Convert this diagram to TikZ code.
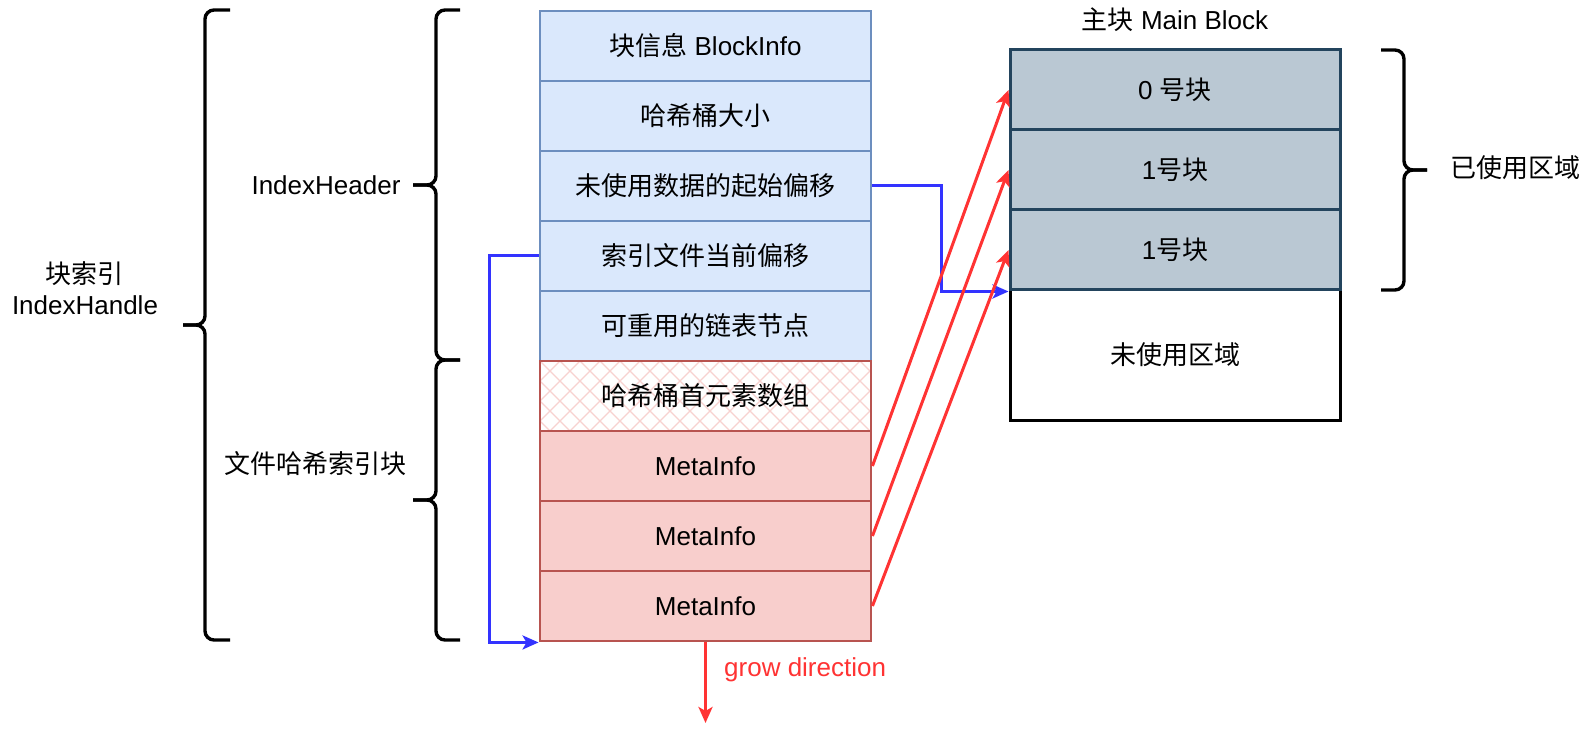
\documentclass[tikz,border=0pt]{standalone}
\usepackage{fontspec}
\setmainfont{Liberation Sans}
\newfontfamily\cjk{Noto Sans CJK SC}
\usetikzlibrary{arrows.meta,calc}
\definecolor{bfill}{HTML}{DAE8FC}
\definecolor{bstroke}{HTML}{6C8EBF}
\definecolor{rfill}{HTML}{F8CECC}
\definecolor{rstroke}{HTML}{B85450}
\definecolor{gfill}{HTML}{BAC8D3}
\definecolor{gstroke}{HTML}{23445D}
\definecolor{ablue}{HTML}{3333FF}
\definecolor{ared}{HTML}{FF3333}
\definecolor{hatchc}{HTML}{F8D2D0}
\begin{document}
\begin{tikzpicture}[x=1pt,y=-1pt,
  every node/.style={font=\fontsize{26}{31}\selectfont, inner sep=0pt},
  cell/.style={draw, line width=2.9pt, minimum width=331pt, minimum height=70pt},
  bluecell/.style={cell, fill=bfill, draw=bstroke},
  redcell/.style={cell, fill=rfill, draw=rstroke},
  hatchcell/.style={cell, fill=white, draw=rstroke, path picture={
      \foreach \i in {-5,...,22} {
        \draw[hatchc, line width=1.4pt] ($(path picture bounding box.north west)+(\i*20pt,0pt)$) -- ++(100pt,-100pt);
        \draw[hatchc, line width=1.4pt] ($(path picture bounding box.north west)+(\i*20pt,0pt)$) -- ++(-100pt,-100pt);
      }}},
  graycell/.style={draw=gstroke, fill=gfill, line width=3pt, minimum width=330pt, minimum height=80pt},
  emptycell/.style={draw=black, fill=white, line width=3pt, minimum width=330pt, minimum height=130pt},
  bracepath/.style={line width=3.4pt, rounded corners=9pt},
  bluearrow/.style={draw=ablue, line width=3pt, -{Stealth[length=16pt,width=14pt,inset=4pt]}},
  redarrow/.style={draw=ared, line width=3pt, -{Stealth[length=16pt,width=14pt,inset=4pt]}},
  lbl/.style={align=center}
]
\fill[white] (0,0) rectangle (1591,735);
\useasboundingbox (0,0) rectangle (1591,735);

% left stack
\node[bluecell] (r1) at (705.5,46) {{\cjk 块信息} BlockInfo};
\node[bluecell] (r2) at (705.5,116) {\cjk 哈希桶大小};
\node[bluecell] (r3) at (705.5,186) {\cjk 未使用数据的起始偏移};
\node[bluecell] (r4) at (705.5,256) {\cjk 索引文件当前偏移};
\node[bluecell] (r5) at (705.5,326) {\cjk 可重用的链表节点};
\node[hatchcell] (h1) at (705.5,396) {\cjk 哈希桶首元素数组};
\node[redcell] (m1) at (705.5,466) {MetaInfo};
\node[redcell] (m2) at (705.5,536) {MetaInfo};
\node[redcell] (m3) at (705.5,606) {MetaInfo};

% right stack
\node[lbl] (title) at (1175,20) {{\cjk 主块} Main Block};
\node[emptycell] (u1) at (1175,355) {\cjk 未使用区域};
\node[graycell] (b0) at (1175,90) {0 {\cjk 号块}};
\node[graycell] (b1) at (1175,170) {1{\cjk 号块}};
\node[graycell] (b2) at (1175,250) {1{\cjk 号块}};

% braces
\draw[bracepath] (230,10) -- (205,10) -- (205,325) -- (183,325);
\draw[bracepath] (230,640) -- (205,640) -- (205,325) -- (183,325);
\draw[bracepath] (460,10) -- (436,10) -- (436,185) -- (413,185);
\draw[bracepath] (460,360) -- (436,360) -- (436,185) -- (413,185);
\draw[bracepath] (460,360) -- (436,360) -- (436,500) -- (413,500);
\draw[bracepath] (460,640) -- (436,640) -- (436,500) -- (413,500);
\draw[bracepath] (1381,50) -- (1404,50) -- (1404,170) -- (1427,170);
\draw[bracepath] (1381,290) -- (1404,290) -- (1404,170) -- (1427,170);

% labels
\node[lbl] (lhandle) at (85,288) {{\cjk 块索引}\\IndexHandle};
\node[lbl] (lheader) at (326,185) {IndexHeader};
\node[lbl] (lhash) at (315,464) {\cjk 文件哈希索引块};
\node[lbl] (lused) at (1515,168) {\cjk 已使用区域};

% blue connectors
\draw[bluearrow] (r3.east) -- ++(69,0) |- (b2.south west);
\draw[bluearrow] (r4.west) -- ++(-49,0) |- (m3.south west);

% red connectors
\draw[redarrow] (m1.east) -- (b0.west);
\draw[redarrow] (m2.east) -- (b1.west);
\draw[redarrow] (m3.east) -- (b2.west);

% grow direction
\coordinate (growend) at (705.5,723);
\draw[redarrow] (m3.south) -- (growend);
\node[anchor=west, text=ared] (lgrow) at (724,670) {grow direction};
\end{tikzpicture}
\end{document}
